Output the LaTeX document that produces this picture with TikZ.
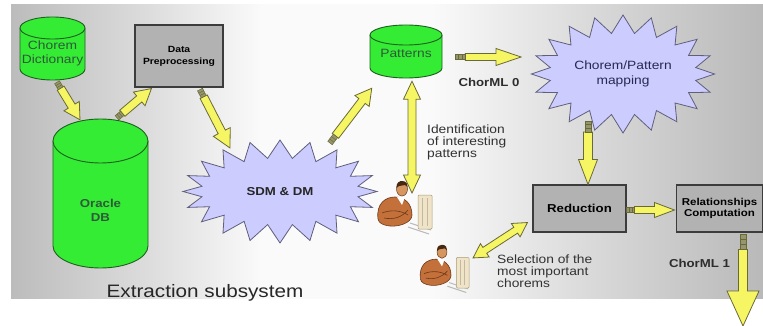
\documentclass[tikz,border=0pt]{standalone}
\usepackage{fontspec}
\setmainfont{Liberation Sans}[FakeStretch=1.15]
\usetikzlibrary{shapes.symbols,calc}

\definecolor{dbgreen}{RGB}{52,236,52}
\definecolor{dbline}{RGB}{30,95,30}
\definecolor{dbtext}{RGB}{48,88,58}
\definecolor{burst}{RGB}{204,204,255}
\definecolor{burstline}{RGB}{95,95,125}
\definecolor{maptext}{RGB}{40,40,80}
\definecolor{boxgray}{RGB}{178,178,178}
\definecolor{boxline}{RGB}{60,60,60}
\definecolor{ayellow}{RGB}{246,246,100}
\definecolor{aline}{RGB}{105,105,55}
\definecolor{astub}{RGB}{150,150,110}
\definecolor{lbltext}{RGB}{45,45,45}
\definecolor{notetext}{RGB}{50,50,50}
\definecolor{panL}{RGB}{188,188,188}
\definecolor{panA}{RGB}{220,220,220}
\definecolor{panW}{RGB}{250,250,250}
\definecolor{panB}{RGB}{216,216,216}
\definecolor{panR}{RGB}{185,185,185}
\definecolor{suit}{RGB}{196,112,58}
\definecolor{suitl}{RGB}{105,58,28}
\definecolor{skin}{RGB}{214,150,95}
\definecolor{hair}{RGB}{70,40,18}
\definecolor{towerc}{RGB}{240,228,200}
\definecolor{towerl}{RGB}{170,155,120}

% panel background: grey at both sides, white in the middle
\pgfdeclarehorizontalshading{panelshade}{100bp}{color(0bp)=(panL); color(25bp)=(panL); color(34bp)=(panA); color(41.6bp)=(panW); color(53bp)=(panW); color(64bp)=(panB); color(75bp)=(panR); color(100bp)=(panR)}

% database cylinder: name, centre x, top y, width, height, ellipse radius
\newcommand\dbcyl[6]{%
  \filldraw[fill=dbgreen, draw=dbline, line width=0.9]
    ({#2-#4/2},{#3+#6}) -- ({#2-#4/2},{#3+#5-#6})
    arc[start angle=180, end angle=0, x radius={#4/2}, y radius=#6]
    -- ({#2+#4/2},{#3+#6});
  \filldraw[fill=dbgreen, draw=dbline, line width=0.9]
    (#2,{#3+#6}) ellipse[x radius={#4/2}, y radius=#6];
  \node[inner sep=0, minimum width=#4, minimum height=#5] (#1) at (#2,{#3+#5/2}) {};
}

% block arrow with a link stub at its tail: from, to, shaft half width, head half width, head length, stub length
\newcommand\yconn[6]{%
  \path let \p1=#1, \p2=#2,
    \n1={atan2(\y2-\y1,\x2-\x1)}, \n2={veclen(\x2-\x1,\y2-\y1)} in
    pic[rotate=\n1] at (\p1) {yarrow={\n2}{#3}{#4}{#5}{#6}};
}
% double headed block arrow: from, to, shaft half width, head half width, head length
\newcommand\ydconn[5]{%
  \path let \p1=#1, \p2=#2,
    \n1={atan2(\y2-\y1,\x2-\x1)}, \n2={veclen(\x2-\x1,\y2-\y1)} in
    pic[rotate=\n1] at (\p1) {ydarrow={\n2}{#3}{#4}{#5}};
}

\tikzset{
  arrowbody/.style={fill=ayellow, draw=aline, line width=0.8, line join=miter},
  stubbody/.style={fill=astub, draw=aline, line width=0.5},
  pics/yarrow/.style n args={5}{code={%
    \filldraw[arrowbody] (#5,-#2) -- ({#1-#4},-#2) -- ({#1-#4},-#3) -- (#1,0)
      -- ({#1-#4},#3) -- ({#1-#4},#2) -- (#5,#2) -- cycle;
    \filldraw[stubbody] (0,{-0.7*#2}) rectangle (#5,{0.7*#2});
    \draw[aline, line width=0.5] ({#5/3},{-0.7*#2}) -- ({#5/3},{0.7*#2})
      ({2*#5/3},{-0.7*#2}) -- ({2*#5/3},{0.7*#2});
  }},
  pics/ydarrow/.style n args={4}{code={%
    \filldraw[arrowbody] (0,0) -- (#4,-#3) -- (#4,-#2) -- ({#1-#4},-#2) -- ({#1-#4},-#3)
      -- (#1,0) -- ({#1-#4},#3) -- ({#1-#4},#2) -- (#4,#2) -- (#4,#3) -- cycle;
  }},
  pics/worker/.style={code={%
    % keyboard on the desk
    \draw[gray!55, line width=1] (6,38) -- (27,45) (8,34) -- (29,41);
    % computer tower
    \filldraw[fill=towerc, draw=towerl, line width=0.5, rounded corners=1] (16,6) rectangle (30,40);
    \draw[towerl!70, line width=0.4] (20,9) -- (20,37) (25,9) -- (25,37);
    % body with crossed arms
    \filldraw[fill=suit, draw=suitl, line width=0.6]
      (-24,30) .. controls (-26,14) and (-16,8) .. (-7,8)
      .. controls (2,8) and (10,14) .. (10,26)
      .. controls (10,34) and (-4,38) .. (-12,37)
      .. controls (-20,36) and (-23,34) .. (-24,30) -- cycle;
    \fill[white] (-5,8) -- (0,16) -- (3,8) -- cycle;
    \draw[suitl, line width=0.6] (-20,24) .. controls (-10,20) and (0,22) .. (6,26)
      (-18,29) .. controls (-8,31) and (0,28) .. (6,21);
    % head
    \filldraw[fill=skin, draw=suitl, line width=0.5] (0,0) ellipse[x radius=5.5, y radius=7];
    \fill[hair] (-5.5,-1) .. controls (-6,-7) and (-2,-8) .. (0,-8)
      .. controls (4,-8) and (6,-5) .. (5.5,-2) -- (3,-4) -- (-3,-3) -- cycle;
  }},
}

\begin{document}
\begin{tikzpicture}[x=1pt, y=-1pt,
  procbox/.style={draw=boxline, fill=boxgray, line width=1.1, align=center, text=black, inner sep=1pt},
  burstshape/.style={starburst, starburst points=20, starburst point height=18pt,
    random starburst=0, fill=burst, draw=burstline, line width=0.8pt, align=center},
  dbtxt/.style={text=dbtext, align=center},
  lbl/.style={text=lbltext, font=\bfseries\fontsize{11.5}{14}\selectfont},
  note/.style={text=notetext, align=left, inner sep=0pt, anchor=north west,
    font=\fontsize{12}{12}\selectfont}]

\useasboundingbox (0,0) rectangle (763,326);
\fill[white] (0,0) rectangle (763,326);
\shade[shading=panelshade] (11,5) rectangle (763,298);

% data stores
\dbcyl{dict}{52.5}{17}{65}{63}{11}
\dbcyl{oracle}{100.5}{119}{95}{149}{22}
\dbcyl{patterns}{406}{25}{72}{53}{10}
\node[dbtxt, font=\fontsize{12}{14}\selectfont] (dictlbl) at (52.5,53) {Chorem\\Dictionary};
\node[dbtxt, font=\bfseries\fontsize{11.5}{14}\selectfont] (oraclelbl) at (100.5,210) {Oracle\\DB};
\node[dbtxt, font=\fontsize{12}{14}\selectfont] (patternslbl) at (406,53) {Patterns};

% processing steps
\node[procbox, minimum width=88pt, minimum height=62pt, font=\bfseries\fontsize{9}{12}\selectfont] (prep) at (179,56) {Data\\Preprocessing};
\node[procbox, minimum width=93pt, minimum height=47pt, font=\bfseries\fontsize{11.5}{14}\selectfont] (red) at (579.5,208.5) {Reduction};
\node[procbox, minimum width=86pt, minimum height=47pt, font=\bfseries\fontsize{10}{11}\selectfont] (rel) at (719.5,208.5) {Relationships\\Computation};

\node[burstshape, minimum width=194pt, minimum height=103pt, text=black!85, font=\bfseries\fontsize{11.5}{14}\selectfont] (sdm) at (280,191.5) {SDM \& DM};
\node[burstshape, minimum width=180pt, minimum height=118pt, text=maptext, font=\fontsize{12}{14.5}\selectfont] (map) at (623,74) {Chorem/Pattern\\mapping};

% analysts
\pic at (402,189) {worker};
\pic[scale=0.9] at (442,252) {worker};
\coordinate (w1) at (412,193);
\coordinate (w2) at (473,258);
\coordinate (sink) at (743,326);

% flows
\yconn{([xshift=4.5pt,yshift=-2pt]dict.south)}{([xshift=-20.5pt,yshift=-1pt]oracle.north)}{4}{9}{16}{7}
\yconn{([xshift=16.5pt,yshift=1pt]oracle.north)}{([xshift=17pt,yshift=-1pt]prep.south west)}{4}{9}{16}{7}
\yconn{([xshift=21pt,yshift=-2pt]prep.south)}{([xshift=-50pt,yshift=43.5pt]sdm.center)}{4}{9.5}{18}{8}
\yconn{([xshift=50pt,yshift=48.5pt]sdm.center)}{([xshift=2pt,yshift=-10pt]patterns.south west)}{4}{9}{16}{9}
\yconn{([xshift=13pt,yshift=-5.5pt]patterns.east)}{([xshift=-102pt,yshift=17pt]map.center)}{3.5}{8.5}{25}{10}
\ydconn{([xshift=6pt,yshift=-3pt]patterns.south)}{(w1)}{4}{8.5}{18}
\yconn{([xshift=-35pt,yshift=-47pt]map.center)}{([xshift=8.5pt]red.north)}{4.5}{9.5}{25}{11}
\yconn{([yshift=-1.5pt]red.east)}{([xshift=-1.5pt,yshift=-1.5pt]rel.west)}{3.5}{7.5}{20}{8}
\ydconn{([xshift=-5pt,yshift=10pt]red.south west)}{(w2)}{3.5}{8}{14}
\yconn{([xshift=23.5pt,yshift=-2pt]rel.south)}{(sink)}{4.5}{16}{35}{15}

% labels
\node[lbl, anchor=base] (c0) at (489,87) {ChorML 0};
\node[lbl, anchor=base] (c1) at (699.5,267) {ChorML 1};
\node[note] (ident) at (427,125) {Identification\\of interesting\\patterns};
\node[note] (select) at (497,255) {Selection of the\\most important\\chorems};
\node[text=black!85, font=\fontsize{18}{20}\selectfont, anchor=base] (title) at (205,297) {Extraction subsystem};

\end{tikzpicture}
\end{document}
